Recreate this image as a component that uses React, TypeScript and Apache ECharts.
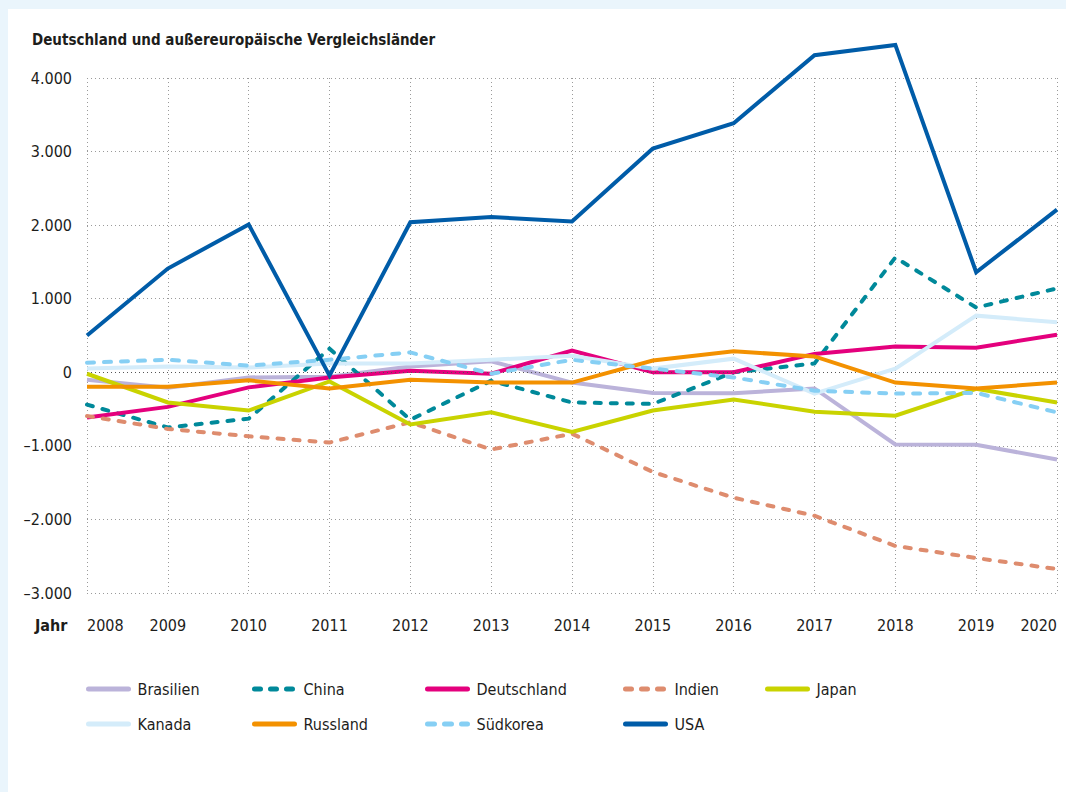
import React, { useEffect, useRef } from "react";
import * as echarts from "echarts";

const years = ["2008","2009","2010","2011","2012","2013","2014","2015","2016","2017","2018","2019","2020"];
const yTicks = { min: -3000, max: 4000, interval: 1000 };

const brasilien = [-100, -210, -70, -60, 80, 150, -140, -280, -285, -220, -980, -985, -1185];
const china = [-440, -750, -630, 320, -645, -115, -410, -430, 0, 120, 1560, 880, 1140];
const deutschland = [-615, -470, -205, -70, 20, -20, 295, 0, 0, 250, 350, 335, 510];
const indien = [-595, -770, -870, -955, -680, -1050, -835, -1355, -1705, -1950, -2360, -2525, -2675];
const japan = [-20, -410, -520, -125, -710, -545, -810, -520, -370, -535, -590, -225, -410];
const kanada = [50, 80, 65, 120, 120, 170, 225, 50, 185, -290, 50, 770, 680];
const russland = [-195, -195, -110, -220, -100, -140, -140, 160, 285, 215, -140, -220, -140];
const suedkorea = [130, 170, 90, 170, 270, -20, 170, 50, -70, -250, -290, -280, -545];
const usa = [500, 1410, 2010, -45, 2040, 2110, 2050, 3040, 3385, 4310, 4450, 1360, 2210];

const seriesDefs = [
  { name: "Brasilien", data: brasilien, color: "#BBB3DA", dash: null },
  { name: "China", data: china, color: "#00899A", dash: [6, 10] },
  { name: "Deutschland", data: deutschland, color: "#E4007D", dash: null },
  { name: "Indien", data: indien, color: "#DE8C6E", dash: [6, 10] },
  { name: "Japan", data: japan, color: "#C9D300", dash: null },
  { name: "Kanada", data: kanada, color: "#D4ECFA", dash: null },
  { name: "Russland", data: russland, color: "#F39100", dash: null },
  { name: "Südkorea", data: suedkorea, color: "#86CFF4", dash: [7, 10] },
  { name: "USA", data: usa, color: "#005CA8", dash: null },
];

const legendOrder = ["Brasilien", "China", "Deutschland", "Indien", "Japan", "Kanada", "Russland", "Südkorea", "USA"];

const FONT = "'DejaVu Sans Condensed', 'DejaVu Sans', sans-serif";
const TXT = "#1d1d1b";

function fmt(v: number) {
  const s = String(Math.abs(v)).replace(/\B(?=(\d{3})+(?!\d))/g, ".");
  return (v < 0 ? "–" : "") + s;
}

export default function App() {
  const ref = useRef<HTMLDivElement>(null);
  useEffect(() => {
    document.body.style.margin = "0";
    const chart = echarts.init(ref.current!, null, { renderer: "svg" });
    const positions = [
      [86, 689], [252, 689], [425, 689], [623, 689], [765, 689],
      [86, 724], [252, 724], [425, 724], [623, 724],
    ];
    const legends = legendOrder.map((name, i) => ({
      data: [name],
      left: positions[i][0],
      top: positions[i][1] - 8,
      itemWidth: 40,
      itemHeight: 16,
      itemGap: 0,
      padding: 0,
      itemStyle: { opacity: 0 },
      lineStyle: { width: 5, cap: "round" },
      textStyle: { fontFamily: FONT, fontSize: 16, color: TXT, padding: [0, 0, 0, 4] },
    }));
    chart.setOption({
      animation: false,
      backgroundColor: "#EAF5FC",
      textStyle: { fontFamily: FONT },
      graphic: [
        { type: "rect", shape: { x: 8, y: 9, width: 1058, height: 783 }, style: { fill: "#ffffff" }, z: -10, silent: true },
        { type: "text", x: 32, y: 40, style: { text: "Deutschland und außereuropäische Vergleichsländer", font: `bold 15px ${FONT}`, fill: TXT, textVerticalAlign: "middle" } },
        { type: "text", x: 35, y: 625, style: { text: "Jahr", font: `bold 16px ${FONT}`, fill: TXT, textVerticalAlign: "middle" } },
      ],
      legend: legends,
      grid: { left: 87, right: 9, top: 78, bottom: 199 },
      xAxis: {
        type: "category",
        data: years,
        boundaryGap: false,
        axisLine: { show: false },
        axisTick: { show: false },
        axisLabel: {
          color: TXT, fontSize: 16, fontFamily: FONT, margin: 24,
          alignMinLabel: "left", alignMaxLabel: "right", interval: 0,
        },
        splitLine: { show: true, lineStyle: { color: "#9a9a9a", type: [1, 3], width: 1 } },
      },
      yAxis: {
        type: "value",
        min: yTicks.min, max: yTicks.max, interval: yTicks.interval,
        axisLine: { show: false },
        axisTick: { show: false },
        axisLabel: { color: TXT, fontSize: 16, fontFamily: FONT, margin: 15, formatter: (v: number) => fmt(v) },
        splitLine: { show: true, lineStyle: { color: "#9a9a9a", type: [1, 3], width: 1 } },
      },
      series: seriesDefs.map((s, i) => ({
        name: s.name,
        type: "line",
        data: s.data,
        symbol: "none",
        clip: false,
        color: s.color,
        z: 2 + i,
        lineStyle: { color: s.color, width: 4, type: s.dash ? s.dash : "solid", cap: s.dash ? "round" : "butt", join: "miter" },
        markLine: i === 0 ? {
          silent: true, symbol: "none", label: { show: false },
          lineStyle: { color: "#555555", type: [1, 3], width: 1.2 },
          data: [{ yAxis: 0 }],
        } : undefined,
      })),
    });
    return () => chart.dispose();
  }, []);
  return <div ref={ref} style={{ width: 1066, height: 792 }} />;
}
